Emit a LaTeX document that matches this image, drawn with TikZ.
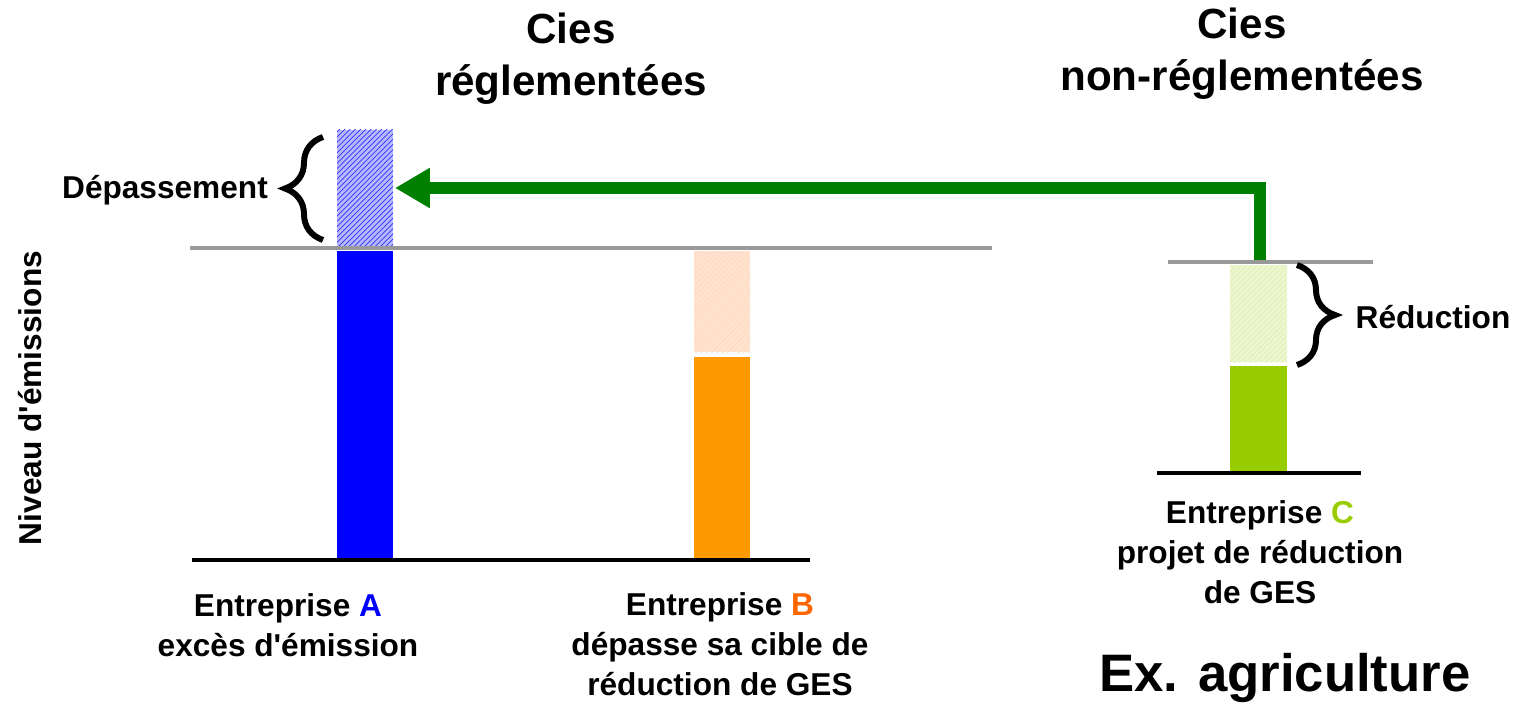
\documentclass[tikz,border=0pt]{standalone}
\usepackage{fontspec}
\setmainfont{Liberation Sans}
\usetikzlibrary{arrows.meta,decorations.pathreplacing,patterns}

\definecolor{barA}{HTML}{0000FF}
\definecolor{barB}{HTML}{FF9900}
\definecolor{barC}{HTML}{99CC00}
\definecolor{letterB}{HTML}{FF6600}
\definecolor{flowgreen}{HTML}{008000}
\definecolor{capgray}{HTML}{999999}

\tikzset{
	lbl/.style={font=\bfseries\fontsize{18}{22.7}\selectfont, align=center, inner sep=0pt},
	ttl/.style={font=\bfseries\fontsize{24}{29.5}\selectfont, align=center, inner sep=0pt},
	capline/.style={draw=capgray, line width=2.8pt},
	baseline/.style={draw=black, line width=2.8pt},
	bracket/.style={decorate, decoration={brace, amplitude=0.76cm}, line width=3.4pt},
	flow/.style={draw=flowgreen, line width=0.24cm, line join=miter,
		-{Triangle[length=0.7cm, width=0.76cm]}}
}

\begin{document}
\begin{tikzpicture}[x=0.02cm, y=-0.02cm]

	\useasboundingbox (0,0) rectangle (1522,706);

	% regulated companies
	\coordinate (capL) at (190,248);
	\coordinate (capR) at (992,248);
	\coordinate (baseL) at (192,560);
	\coordinate (baseR) at (810,560);

	% company A
	\fill[barA!28] (337,130) rectangle (393,246);
	\fill[pattern=north east lines, pattern color=barA!80] (337,130) rectangle (393,246);
	\fill[barA] (337,251) rectangle (393,558);
	\coordinate (atip) at (395,188);

	% company B
	\fill[letterB!18] (694,251) rectangle (750,352);
	\fill[pattern=north east lines, pattern color=letterB!25] (694,251) rectangle (750,352);
	\fill[barB] (694,357) rectangle (750,558);

	% non regulated company C
	\coordinate (capCL) at (1168,262);
	\coordinate (capCR) at (1373,262);
	\coordinate (baseCL) at (1157,473);
	\coordinate (baseCR) at (1361,473);
	\coordinate (ctop) at (1260,262);
	\fill[barC!18] (1230,265) rectangle (1287,362);
	\fill[pattern=north east lines, pattern color=barC!30] (1230,265) rectangle (1287,362);
	\fill[barC] (1230,366) rectangle (1287,471);

	\draw[flow] (ctop) |- (atip);

	\draw[capline] (capL) -- (capR);
	\draw[baseline] (baseL) -- (baseR);
	\draw[capline] (capCL) -- (capCR);
	\draw[baseline] (baseCL) -- (baseCR);

	\draw[bracket] (323,240) -- (323,137);
	\draw[bracket] (1297,265) -- (1297,365);

	\node[lbl] (depas) at (165,190) {Dépassement};
	\node[lbl] (reduc) at (1433,317) {Réduction};
	\node[lbl, rotate=90] (niveau) at (30,398) {Niveau d\textquotesingle émissions};

	\node[ttl] (ttlreg) at (571,59) {Cies\\réglementées};
	\node[ttl] (ttlnon) at (1242,54) {Cies\\non-réglementées};

	\node[lbl] (labA) at (288,625) {Entreprise \textcolor{barA}{A}\\excès d\textquotesingle émission};
	\node[lbl] (labB) at (720,644) {Entreprise \textcolor{letterB}{B}\\dépasse sa cible de\\réduction de GES};
	\node[lbl] (labC) at (1260,552) {Entreprise \textcolor{barC}{C}\\projet de réduction\\de GES};

	\node[font=\bfseries\fontsize{30}{36}\selectfont, inner sep=0pt] (exagri) at (1285,678) {Ex. agriculture};

\end{tikzpicture}
\end{document}
